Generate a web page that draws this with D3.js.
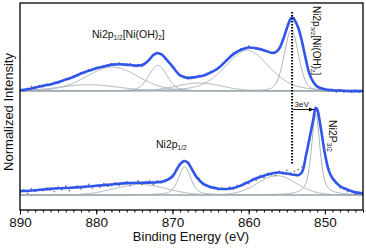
<!DOCTYPE html>
<html><head><meta charset="utf-8">
<script src="https://cdnjs.cloudflare.com/ajax/libs/d3/7.8.5/d3.min.js"></script>
<style>
html,body{margin:0;padding:0;background:#fff;}
svg{display:block;}
text{font-family:"Liberation Sans",Arial,sans-serif;fill:#111;}
</style></head>
<body>
<svg id="chart" width="366" height="250"></svg>
<script>
// ---------- DATA ----------
const xTickLabels = [890, 880, 870, 860, 850];
const upperOffset = 1.19;

// fitted envelope (blue), upper spectrum: Ni(OH)2
const upperEnvE = [890,889,888,887,886,885,884,883,882,881,880,879,878,877,876,875,874,873.5,873,872.5,872,871.5,871,870.5,870,869,868,867,866,865,864,863,862,861,860,859,858,857,856.5,856,855.5,855,854.5,854.3,854,853.5,853,852.5,852,851.5,851,850,849,848,847,846,845];
const upperEnvI = [0.00,0.01,0.03,0.05,0.065,0.09,0.12,0.15,0.19,0.22,0.25,0.27,0.29,0.295,0.29,0.28,0.285,0.31,0.35,0.40,0.42,0.41,0.37,0.32,0.27,0.17,0.14,0.15,0.165,0.20,0.25,0.33,0.41,0.46,0.485,0.475,0.455,0.425,0.43,0.47,0.57,0.70,0.81,0.825,0.80,0.71,0.55,0.35,0.18,0.09,0.04,0.01,0.00,-0.005,-0.01,-0.01,-0.01];

// fitted envelope (blue), lower spectrum
const lowerEnvE = [890,888,886,884,882,880,878,876,874,872,871,870,869.5,869,868.5,868,867.5,867,866.5,866,865,864,863,862,861,860,859,858,857,856,855,854,853.5,853,852.5,852,851.5,851.2,851,850.5,850,849.5,849,848,847,846,845];
const lowerEnvI = [0.045,0.055,0.07,0.08,0.09,0.105,0.12,0.135,0.14,0.145,0.16,0.21,0.28,0.35,0.385,0.37,0.30,0.225,0.17,0.13,0.09,0.072,0.068,0.08,0.11,0.15,0.19,0.22,0.245,0.255,0.245,0.23,0.225,0.26,0.44,0.65,0.87,0.99,0.97,0.74,0.47,0.28,0.19,0.10,0.06,0.03,0.02];

// measured points (grey dots), 0.5 eV step from 890 down to 845
const scatterStart = 890, scatterStep = 0.5;
const upperPts = [0.01,-0.01,0.02,0.04,0.02,0.05,0.04,0.07,0.06,0.09,0.08,0.11,0.13,0.13,0.16,0.17,0.20,0.20,0.23,0.23,0.26,0.26,0.28,0.28,0.30,0.29,0.31,0.29,0.28,0.30,0.27,0.29,0.27,0.31,0.35,0.40,0.43,0.41,0.37,0.32,0.26,0.22,0.16,0.16,0.13,0.15,0.14,0.17,0.16,0.19,0.21,0.22,0.26,0.29,0.34,0.37,0.42,0.43,0.47,0.47,0.50,0.48,0.47,0.47,0.45,0.44,0.42,0.43,0.47,0.58,0.69,0.80,0.82,0.71,0.56,0.36,0.17,0.10,0.05,0.02,0.01,-0.01,0.01,-0.02,0.00,-0.02,-0.01,-0.02,0.00,-0.02,-0.01];
const lowerPts = [0.03,0.06,0.02,0.07,0.04,0.06,0.05,0.08,0.06,0.04,0.09,0.06,0.10,0.05,0.09,0.10,0.07,0.10,0.12,0.08,0.11,0.09,0.13,0.10,0.11,0.14,0.11,0.13,0.15,0.11,0.13,0.16,0.12,0.15,0.16,0.12,0.16,0.14,0.17,0.19,0.23,0.29,0.35,0.39,0.36,0.31,0.22,0.19,0.12,0.11,0.08,0.09,0.06,0.08,0.07,0.09,0.07,0.11,0.10,0.14,0.13,0.18,0.17,0.22,0.20,0.25,0.23,0.22,0.27,0.24,0.28,0.25,0.27,0.29,0.32,0.45,0.63,0.85,0.95,0.74,0.47,0.30,0.18,0.14,0.08,0.07,0.04,0.05,0.01,0.03,0.00];

// fit components (grey): [centre eV, height, FWHM eV, Lorentz fraction]
const upperComps = [[854.4,0.69,2.2,0.2],[860.2,0.46,6.8,0.3],[871.9,0.29,2.8,0.2],[877.9,0.27,8.0,0.1],[881.0,0.07,9.0,0.0],[866.5,0.09,7.0,0.0]];
const lowerComps = [[851.2,0.92,1.3,0.6],[856.3,0.22,6.0,0.1],[868.4,0.32,1.9,0.5],[874.2,0.12,8.0,0.0]];
const upperBase = -0.008, lowerBase = 0.0;

const shiftArrow = [854.3, 851.3];   // dotted line position and 3 eV shift target

// ---------- CHART ----------
const svg = d3.select("#chart");
const L = 20, R = 363, T = 3, B = 210;
const x = d3.scaleLinear().domain([890, 845]).range([L, R]);
const y = d3.scaleLinear().domain([-0.17, 2.18]).range([B, T]);

const defs = svg.append("defs");
defs.append("clipPath").attr("id","clip")
  .append("rect").attr("x",L).attr("y",T).attr("width",R-L).attr("height",B-T);
const g = svg.append("g").attr("clip-path","url(#clip)");

function pv(E,c){const t=(E-c[0])/c[2];return c[1]*(c[3]/(1+4*t*t)+(1-c[3])*Math.exp(-4*Math.LN2*t*t));}
const fineE = d3.range(890, 844.95, -0.1);

function drawSpectrum(off, comps, base, pts, envE, envI){
  g.append("line").attr("x1",x(890)).attr("x2",x(845)).attr("y1",y(off+base)).attr("y2",y(off+base))
    .attr("stroke","#a7b0b7").attr("stroke-width",1);
  comps.forEach(c=>{
    const line = d3.line().x(e=>x(e)).y(e=>y(off+base+pv(e,c)));
    g.append("path").attr("d",line(fineE)).attr("fill","none").attr("stroke","#a0abb3").attr("stroke-width",0.9);
  });
  g.selectAll(null).data(pts).enter().append("circle")
    .attr("cx",(d,i)=>x(scatterStart - i*scatterStep)).attr("cy",d=>y(off+d))
    .attr("r",0.85).attr("fill","#707070");
  const env = d3.line().x((d,i)=>x(envE[i])).y(d=>y(off+d)).curve(d3.curveCatmullRom.alpha(0.5));
  g.append("path").attr("d",env(envI)).attr("fill","none").attr("stroke","#2f55ea").attr("stroke-width",2.6)
    .attr("stroke-linejoin","round");
}
drawSpectrum(upperOffset, upperComps, upperBase, upperPts, upperEnvE, upperEnvI);
drawSpectrum(0, lowerComps, lowerBase, lowerPts, lowerEnvE, lowerEnvI);

// dotted line + arrow
svg.append("line").attr("x1",x(shiftArrow[0])).attr("x2",x(shiftArrow[0])).attr("y1",12).attr("y2",164)
  .attr("stroke","#000").attr("stroke-width",2).attr("stroke-dasharray","1.5,1.5");
defs.append("marker").attr("id","arr").attr("viewBox","0 0 10 10").attr("refX",10).attr("refY",5)
  .attr("markerWidth",6).attr("markerHeight",6).attr("orient","auto")
  .append("path").attr("d","M0,1L10,5L0,9Z").attr("fill","#000");
svg.append("line").attr("x1",x(shiftArrow[0])+1).attr("x2",x(shiftArrow[1])-1).attr("y1",109.5).attr("y2",109.5)
  .attr("stroke","#000").attr("stroke-width",0.9).attr("marker-end","url(#arr)");
svg.append("text").attr("x",x(shiftArrow[0])+2.5).attr("y",106.5).attr("font-size",8).text("3eV");

// frame
svg.append("rect").attr("x",L).attr("y",T).attr("width",R-L).attr("height",B-T)
  .attr("fill","none").attr("stroke","#000").attr("stroke-width",1.3);

// axis ticks
const minor = svg.append("g").attr("transform",`translate(0,${B})`)
  .call(d3.axisBottom(x).tickValues(d3.range(845,891,1)).tickSize(2.5).tickFormat(""));
minor.select(".domain").remove();
const major = svg.append("g").attr("transform",`translate(0,${B})`)
  .call(d3.axisBottom(x).tickValues(xTickLabels).tickSize(4.5).tickPadding(3).tickFormat(d3.format("d")));
major.select(".domain").remove();
major.selectAll("text").attr("font-size",13.5).attr("font-family","Liberation Sans, Arial, sans-serif").attr("fill","#111");
svg.selectAll(".tick line").attr("stroke","#000");

// axis titles
svg.append("text").attr("x",191).attr("y",241).attr("text-anchor","middle").attr("font-size",13).text("Binding Energy (eV)");
svg.append("text").attr("transform","translate(12.5,112) rotate(-90)").attr("text-anchor","middle").attr("font-size",13).text("Normalized Intensity");

// annotations
function richText(sel, parts, size){
  parts.forEach(p=>{
    const t = sel.append("tspan").text(p[0]);
    if(p[1]==="sub") t.attr("font-size",size*0.62).attr("baseline-shift","-28%");
    else t.attr("font-size",size);
  });
}
richText(svg.append("text").attr("x",92).attr("y",38),
  [["Ni2p"],["1/2","sub"],["[Ni(OH)"],["2","sub"],["]"]], 10.5);
richText(svg.append("text").attr("x",156).attr("y",148),
  [["Ni2p"],["1/2","sub"]], 10.5);
richText(svg.append("text").attr("transform","translate(313,6) rotate(90)"),
  [["Ni2p"],["3/2","sub"],["[Ni(OH)"],["2","sub"],["]"]], 10);
richText(svg.append("text").attr("transform","translate(329,120) rotate(90)"),
  [["Ni2P"],["3/2","sub"]], 10.5);
</script>
</body></html>
